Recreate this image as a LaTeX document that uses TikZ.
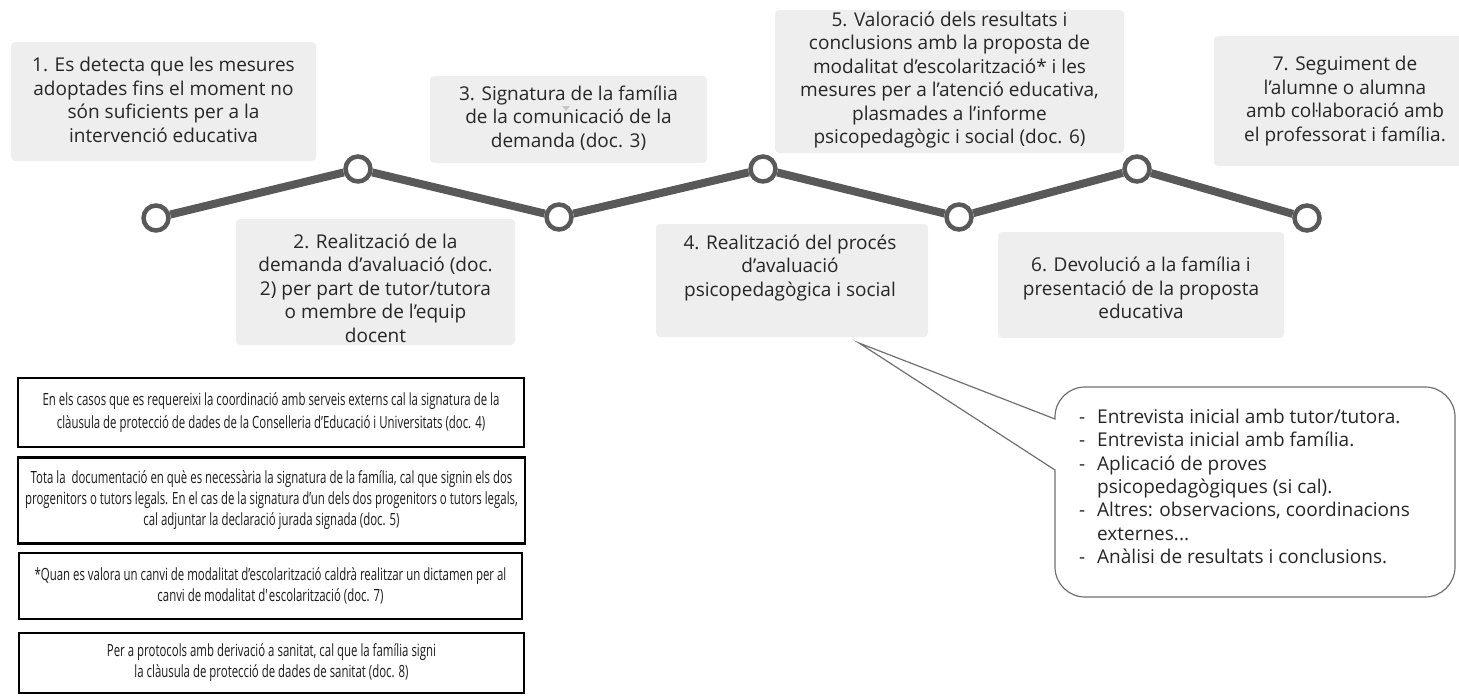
\documentclass[tikz,border=0pt]{standalone}
\usepackage{fontspec}
\setmainfont{Open Sans}
\newfontfamily\condfont[FakeStretch=0.68]{Open Sans}
\definecolor{boxgray}{HTML}{EEEEEE}
\definecolor{linegray}{HTML}{595959}
\definecolor{txt}{HTML}{262626}
\definecolor{notetxt}{HTML}{1A1A1A}
\definecolor{callgray}{HTML}{707070}
\begin{document}
\begin{tikzpicture}[x=1pt,y=-1pt,
  graybox/.style={fill=boxgray, rounded corners=4pt},
  steptext/.style={align=center, text=txt, font=\fontsize{19}{23.5}\selectfont, inner sep=0pt},
  notebox/.style={draw=black, line width=2.5pt, align=center, text=notetxt, inner sep=0pt,
     font=\condfont\fontsize{16.8}{21}\selectfont},
  calltext/.style={align=left, text=txt, font=\fontsize{19}{23.4}\selectfont, inner sep=0pt},
  dot/.style={circle, draw=linegray, line width=4.5pt, fill=white, minimum size=25pt, inner sep=0pt},
  tl/.style={draw=linegray, line width=8pt},
  callout/.style={draw=callgray, line width=1.2pt, fill=white}]
\useasboundingbox (0,0) rectangle (1459,696);

% grey step boxes
\fill[graybox] (11,42) rectangle (316,161);
\fill[graybox] (236,219) rectangle (515,345);
\fill[graybox] (430,76) rectangle (707,163);
\fill[graybox] (656,224) rectangle (928,337);
\fill[graybox] (775,10) rectangle (1124,153);
\fill[graybox] (998,232) rectangle (1284,338);
\fill[graybox] (1214,36) rectangle (1480,166);
\fill[gray!45] (562,106) -- (570,106) -- (566,111) -- cycle;

\node[steptext] (t1) at (163.5,100) {1. Es detecta que les mesures\\adoptades fins el moment no\\són suficients per a la\\intervenció educativa};
\node[steptext] (t2) at (375.5,288) {2. Realització de la\\demanda d’avaluació (doc.\\2) per part de tutor/tutora\\o membre de l’equip\\docent};
\node[steptext] (t3) at (568.5,118) {3. Signatura de la família\\de la comunicació de la\\demanda (doc. 3)};
\node[steptext] (t4) at (790,268) {4. Realització del procés\\d’avaluació\\psicopedagògica i social};
\node[steptext] (t5) at (949.5,80) {5. Valoració dels resultats i\\conclusions amb la proposta de\\modalitat d’escolarització* i les\\mesures per a l’atenció educativa,\\plasmades a l’informe\\psicopedagògic i social (doc. 6)};
\node[steptext] (t6) at (1141,288) {6. Devolució a la família i\\presentació de la proposta\\educativa};
\node[steptext] (t7) at (1345,101) {7. Seguiment de\\l’alumne o alumna\\amb coŀlaboració amb\\el professorat i família.};

% timeline
\node[dot] (c1) at (156,218) {};
\node[dot] (c2) at (358,169) {};
\node[dot] (c3) at (559,217) {};
\node[dot] (c4) at (763,169) {};
\node[dot] (c5) at (959,217) {};
\node[dot] (c6) at (1137,169) {};
\node[dot] (c7) at (1307,218) {};
\draw[tl] (c1) -- (c2);
\draw[tl] (c2) -- (c3);
\draw[tl] (c3) -- (c4);
\draw[tl] (c4) -- (c5);
\draw[tl] (c5) -- (c6);
\draw[tl] (c6) -- (c7);

% notes
\node[notebox, minimum width=506pt, minimum height=69pt, font=\condfont\fontsize{16.8}{23}\selectfont] (nA) at (271,412.5)
  {En els casos que es requereixi la coordinació amb serveis externs cal la signatura de la\\clàusula de protecció de dades de la Conselleria d’Educació i Universitats (doc. 4)};
\node[notebox, minimum width=507pt, minimum height=86pt] (nB) at (271.5,500.5)
  {Tota la\ \ documentació en què es necessària la signatura de la família, cal que signin els dos\\progenitors o tutors legals. En el cas de la signatura d’un dels dos progenitors o tutors legals,\\cal adjuntar la declaració jurada signada (doc. 5)};
\node[notebox, minimum width=503pt, minimum height=66pt] (nC) at (270.5,586)
  {*Quan es valora un canvi de modalitat d’escolarització caldrà realitzar un dictamen per al\\canvi de modalitat d\textquotesingle escolarització (doc. 7)};
\node[notebox, minimum width=505pt, minimum height=60pt] (nD) at (271.5,663)
  {Per a protocols amb derivació a sanitat, cal que la família signi\\la clàusula de protecció de dades de sanitat (doc. 8)};

% callout
\coordinate (tip) at (859,343);
\draw[callout] (tip) -- (1055,419) -- (1055,417)
  arc[start angle=180, end angle=270, radius=30] -- (1425,387)
  arc[start angle=270, end angle=360, radius=30] -- (1455,567)
  arc[start angle=0, end angle=90, radius=30] -- (1085,597)
  arc[start angle=90, end angle=180, radius=30] -- (1055,470) -- cycle;
\node[calltext, anchor=north west] (ct) at (1079,408.6) {%
\makebox[18pt][l]{-}Entrevista inicial amb tutor/tutora.\\
\makebox[18pt][l]{-}Entrevista inicial amb família.\\
\makebox[18pt][l]{-}Aplicació de proves\\
\hspace*{18pt}psicopedagògiques (si cal).\\
\makebox[18pt][l]{-}Altres: observacions, coordinacions\\
\hspace*{18pt}externes...\\
\makebox[18pt][l]{-}Anàlisi de resultats i conclusions.};
\end{tikzpicture}
\end{document}
